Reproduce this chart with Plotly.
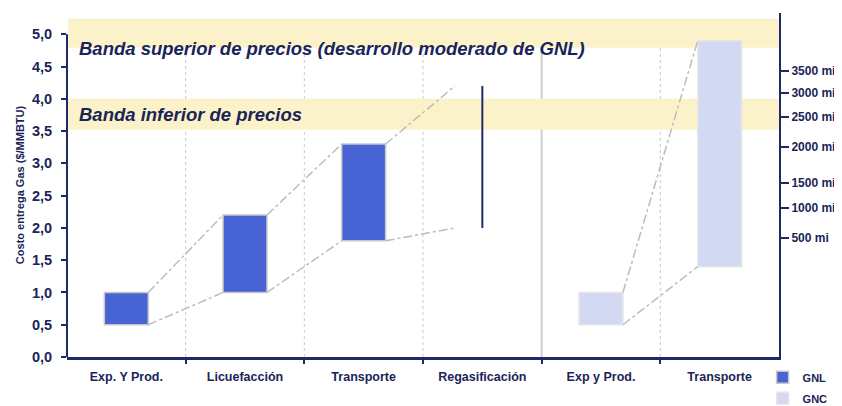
import plotly.graph_objects as go

# ---------------- data ----------------
categories = ["Exp. Y Prod.", "Licuefacción", "Transporte", "Regasificación", "Exp y Prod.", "Transporte"]
gnl_x = [0, 1, 2]
gnl_low = [0.5, 1.0, 1.8]
gnl_high = [1.0, 2.2, 3.3]
regas_x = 3
regas_low = 2.0
regas_high = 4.2
gnc_x = [4, 5]
gnc_low = [0.5, 1.4]
gnc_high = [1.0, 4.9]
y_ticks = [0.0, 0.5, 1.0, 1.5, 2.0, 2.5, 3.0, 3.5, 4.0, 4.5, 5.0]
right_tick_pos = [1.84, 2.31, 2.70, 3.25, 3.72, 4.09, 4.43]
right_tick_labels = ["500 mi", "1000 mi", "1500 mi", "2000 mi", "2500 mi", "3000 mi", "3500 mi"]
band_upper = (4.79, 5.24)
band_lower = (3.52, 4.00)
band_upper_text = "Banda superior de precios (desarrollo moderado de GNL)"
band_lower_text = "Banda inferior de precios"

NAVY = "#1E2A66"
TXT = "#1A2458"
GNL_C = "#4863D3"
GNC_C = "#D3D9F3"
BAND_C = "#FCF2C9"
CONN_C = "#BDBDBD"
BW = 0.37
FONT = "Liberation Sans"

fig = go.Figure()

# connector lines (dash-dot)
def conn(x0, y0, x1, y1):
    fig.add_trace(go.Scatter(x=[x0, x1], y=[y0, y1], mode="lines",
                             line=dict(color=CONN_C, width=1.5, dash="dashdot"),
                             showlegend=False, hoverinfo="skip"))

for i in range(len(gnl_x) - 1):
    conn(gnl_x[i] + BW / 2, gnl_high[i], gnl_x[i + 1] - BW / 2, gnl_high[i + 1])
    conn(gnl_x[i] + BW / 2, gnl_low[i], gnl_x[i + 1] - BW / 2, gnl_low[i + 1])
conn(gnl_x[-1] + BW / 2, gnl_high[-1], regas_x - 0.23, regas_high)
conn(gnl_x[-1] + BW / 2, gnl_low[-1], regas_x - 0.23, regas_low)
conn(gnc_x[0] + BW / 2, gnc_high[0], gnc_x[1] - BW / 2, gnc_high[1])
conn(gnc_x[0] + BW / 2, gnc_low[0], gnc_x[1] - BW / 2, gnc_low[1])

fig.add_trace(go.Bar(x=gnl_x, base=gnl_low, y=[h - l for h, l in zip(gnl_high, gnl_low)],
                     width=BW, name="GNL", legendgroup="gnl",
                     marker=dict(color=GNL_C, line=dict(color="#C8C8C8", width=1.5)),
                     hoverinfo="skip"))
fig.add_trace(go.Bar(x=gnc_x, base=gnc_low, y=[h - l for h, l in zip(gnc_high, gnc_low)],
                     width=BW, name="GNC", legendgroup="gnc",
                     marker=dict(color=GNC_C, line=dict(color="#E6E6E6", width=1.5)),
                     hoverinfo="skip"))
fig.add_trace(go.Scatter(x=[regas_x, regas_x], y=[regas_low, regas_high], mode="lines",
                         line=dict(color=NAVY, width=2), showlegend=False, hoverinfo="skip"))
# dummy trace for right axis
fig.add_trace(go.Scatter(x=[regas_x], y=[regas_low], yaxis="y2", mode="markers",
                         marker=dict(opacity=0), showlegend=False, hoverinfo="skip"))

shapes = []
# gridlines at category boundaries
for i in range(len(categories) - 1):
    b = i + 0.5
    if b == 3.5:
        shapes.append(dict(type="line", xref="x", yref="y", x0=b, x1=b, y0=0, y1=band_upper[0],
                           line=dict(color="#CFCFCF", width=2), layer="below"))
    else:
        shapes.append(dict(type="line", xref="x", yref="y", x0=b, x1=b, y0=0, y1=band_upper[0],
                           line=dict(color="#CACACA", width=1, dash="dot"), layer="below"))
for (y0, y1) in (band_upper, band_lower):
    shapes.append(dict(type="rect", xref="x", yref="y", x0=-0.49, x1=5.5, y0=y0, y1=y1,
                       fillcolor=BAND_C, line=dict(width=0), layer="below"))
# left axis line (stops at 5.0)
shapes.append(dict(type="line", xref="paper", yref="y", x0=0, x1=0, y0=0, y1=y_ticks[-1],
                   line=dict(color=NAVY, width=2)))

annotations = [
    dict(xref="x", yref="y", x=-0.5, y=sum(band_upper) / 2 - 0.23, xshift=10, xanchor="left", yanchor="middle",
         text=band_upper_text, showarrow=False,
         font=dict(family=FONT, size=18.5, color=TXT, style="italic", weight="bold")),
    dict(xref="x", yref="y", x=-0.5, y=sum(band_lower) / 2, xshift=10, xanchor="left", yanchor="middle",
         text=band_lower_text, showarrow=False,
         font=dict(family=FONT, size=18.5, color=TXT, style="italic", weight="bold")),
]

fig.update_layout(
    width=834, height=398,
    margin=dict(l=59, r=63, t=5, b=49, autoexpand=False),
    paper_bgcolor="white", plot_bgcolor="white",
    barmode="overlay",
    separators=",.",
    shapes=shapes, annotations=annotations,
    xaxis=dict(range=[-0.5, 5.5], tickmode="array", tickvals=list(range(len(categories))),
               ticktext=categories, ticks="", showgrid=False, zeroline=False, automargin=False,
               showline=True, linecolor=NAVY, linewidth=3,
               tickfont=dict(family=FONT, size=12.5, color=TXT, weight="bold"),
               ticklabelstandoff=6,
               minor=dict(tickmode="array", tickvals=[i + 0.5 for i in range(len(categories) - 1)],
                          ticks="outside", ticklen=4, tickwidth=2, tickcolor=NAVY, showgrid=False)),
    yaxis=dict(range=[0, 5.33], tickmode="array", tickvals=y_ticks, tickformat=".1f",
               ticks="outside", ticklen=5, tickwidth=2, tickcolor=NAVY, automargin=False,
               showline=False, showgrid=False, zeroline=False,
               ticklabelstandoff=6,
               tickfont=dict(family=FONT, size=14.5, color=TXT, weight="bold"),
               title=dict(text="Costo entrega Gas ($/MMBTU)",
                          font=dict(family=FONT, size=11, color=TXT, weight="bold"), standoff=5)),
    yaxis2=dict(range=[0, 5.33], overlaying="y", side="right", tickmode="array",
                tickvals=right_tick_pos, ticktext=right_tick_labels, automargin=False,
                ticks="outside", ticklen=8, tickwidth=2, tickcolor=NAVY,
                showline=True, linecolor=NAVY, linewidth=2, showgrid=False, zeroline=False,
                tickfont=dict(family=FONT, size=12, color=TXT, weight="bold")),
    legend=dict(x=0.977, xanchor="left", y=-0.017, yanchor="top", bgcolor="rgba(0,0,0,0)",
                font=dict(family=FONT, size=11, color=TXT, weight="bold"), tracegroupgap=2),
)

fig.write_html("out.html")
